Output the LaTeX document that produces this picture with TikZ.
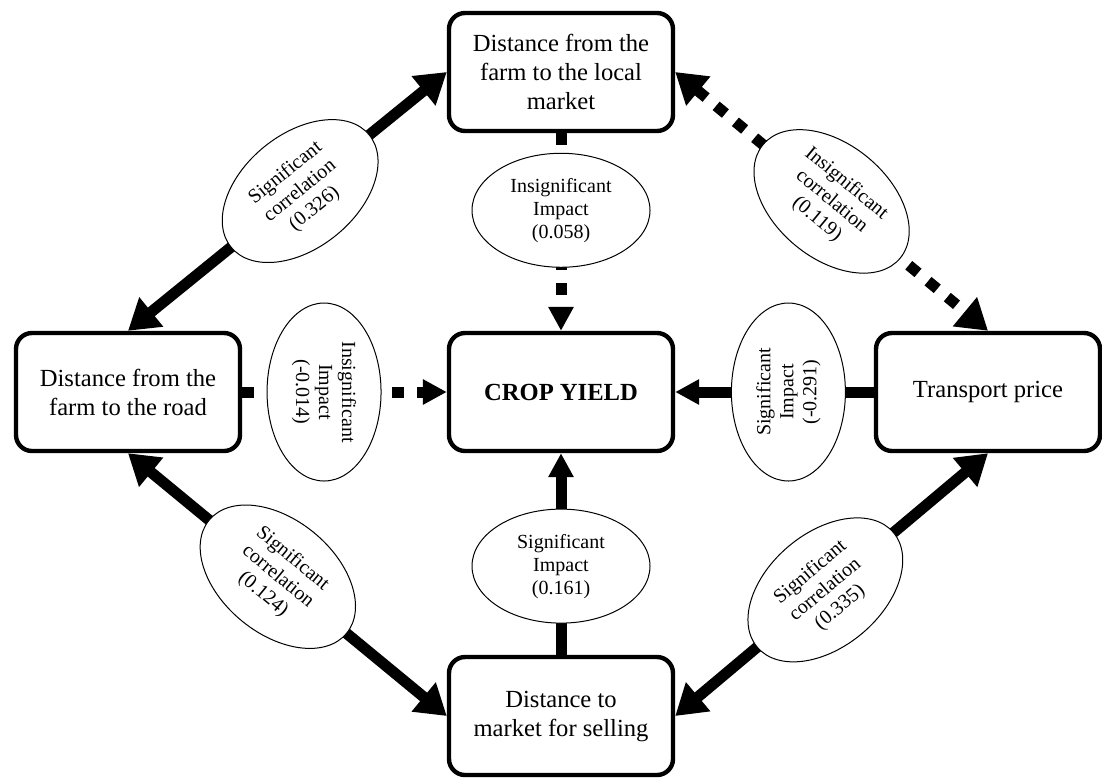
\documentclass[tikz,border=0pt]{standalone}
\usepackage{fontspec}
\setmainfont{Liberation Serif}
\usetikzlibrary{arrows.meta,shapes.geometric}

\tikzset{
  fat/.tip={Triangle[length=15pt,width=18pt]},
  slim/.tip={Triangle[length=12pt,width=12pt]},
  box/.style={draw, line width=2.2pt, rounded corners=8pt, fill=white,
    minimum width=112pt, minimum height=59pt, inner sep=2pt, align=center,
    font=\fontsize{12.3}{14.5}\selectfont},
  oval/.style={ellipse, draw, solid, line width=0.5pt, fill=white, inner sep=0pt,
    minimum width=89pt, minimum height=57pt, align=center,
    font=\fontsize{10}{11.5}\selectfont},
  link/.style={line width=5.5pt},
  dlink/.style={line width=5.5pt, dash pattern=on 6pt off 6.5pt}
}

\begin{document}
\begin{tikzpicture}[x=0.5pt, y=-0.5pt]
\useasboundingbox (0,0) rectangle (1102,778);

% boxes
\node[box] (market) at (561,72) {Distance from the\\farm to the local\\market};
\node[box] (road) at (128,392) {Distance from the\\farm to the road};
\node[box] (cy) at (561,392) {\textbf{CROP YIELD}};
\node[box] (trans) at (988,392) {Transport price};
\node[box] (sell) at (561,716) {Distance to\\market for selling};

% correlations
\draw[link, fat-fat] (road.north) -- node[oval, sloped, pos=.54] (e326) {Significant\\correlation\\(0.326)} (market.west);
\draw[dlink, fat-fat] (market.east) -- node[oval, sloped, pos=.5] (e119) {Insignificant\\correlation\\(0.119)} (trans.north);
\draw[link, fat-fat] (road.south) -- node[oval, sloped, pos=.47] (e124) {Significant\\correlation\\(0.124)} (sell.west);
\draw[link, fat-fat] (sell.east) -- node[oval, sloped, pos=.48] (e335) {Significant\\correlation\\(0.335)} (trans.south);

% impacts
\draw[dlink, -slim] (market.south) -- node[oval, pos=.39] (e058) {Insignificant\\Impact\\(0.058)} (cy.north);
\draw[dlink, -slim] (road.east) -- node[oval, rotate=-90, pos=.4] (e014) {Insignificant\\Impact\\(-0.014)} (cy.west);
\draw[link, -slim] (trans.west) -- node[oval, rotate=90, pos=.43] (e291) {Significant\\Impact\\(-0.291)} (cy.east);
\draw[link, -slim] (sell.north) -- node[oval, pos=.44] (e161) {Significant\\Impact\\(0.161)} (cy.south);
\end{tikzpicture}
\end{document}
